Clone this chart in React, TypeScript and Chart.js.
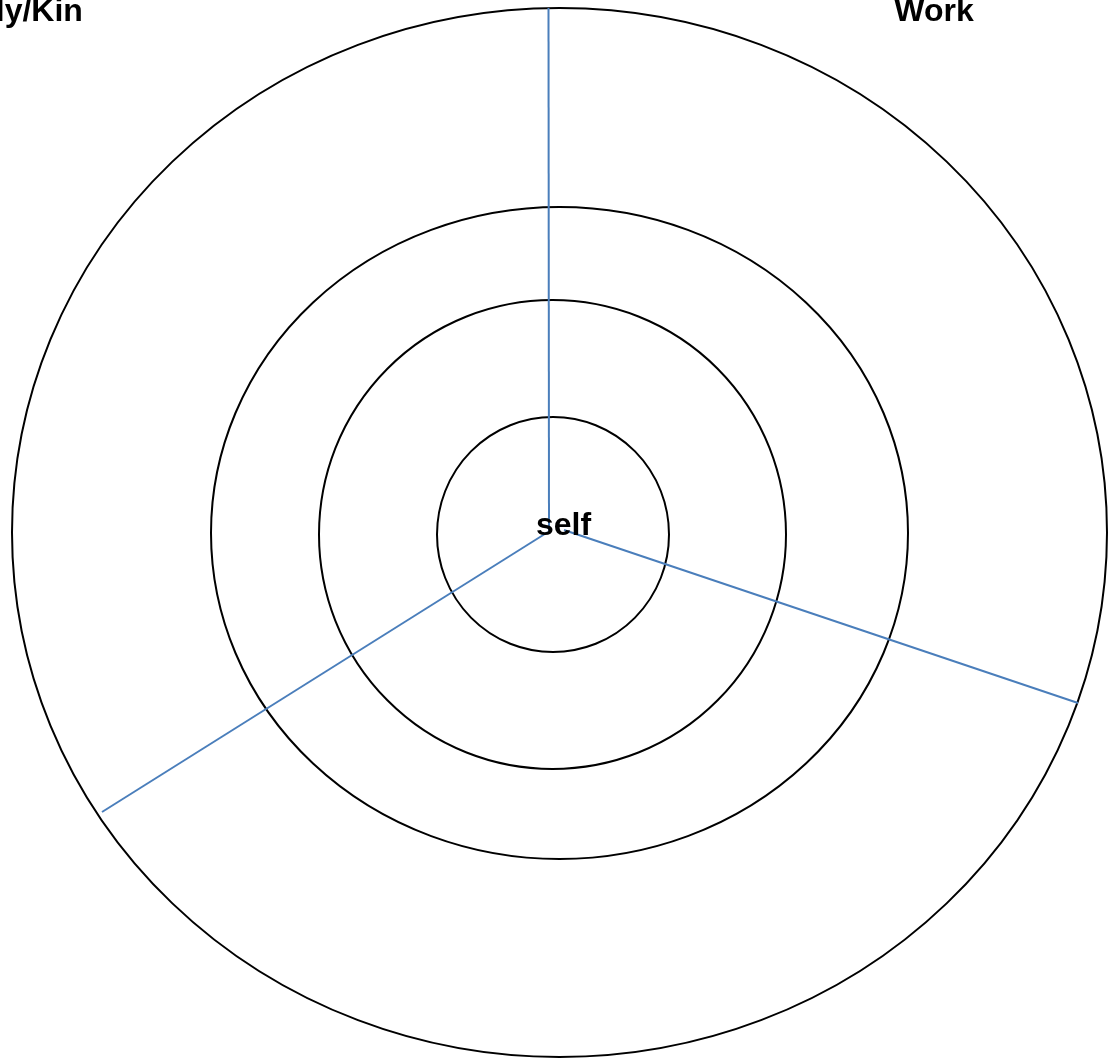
import React, { useEffect, useRef } from "react";
import { Chart, registerables } from "chart.js";

Chart.register(...registerables);

// Data space: origin at "self"; units ≈ pixels, y up.
const spokeNames = ["Family/Kin", "Work", "Other"];
const spokeStart = [
  { x: -1, y: 1 },
  { x: 0, y: 2 },
  { x: 15, y: 3 },
];
const spokeEnd = [
  { x: -447, y: -279 },
  { x: -0.5, y: 525 },
  { x: 529, y: -170 },
];

// Rings (ellipses) from outside in
const ringCx = [10.5, 10.5, 3.5, 4];
const ringCy = [0.5, 0, -1.5, -1.5];
const ringRx = [547.5, 348.5, 233.5, 116];
const ringRy = [524.5, 326, 234.5, 117.5];

// Text labels
const labelTexts = ["self", "Work", "Family/Kin"];
const labelX = [14.5, 385, -547];
const labelY = [-2, 512, 512];

const X_MIN = -549;
const X_MAX = 563;
const Y_MIN = -526;
const Y_MAX = 533;

const ringsPlugin = {
  id: "rings",
  beforeDatasetsDraw(chart: any) {
    const { ctx, scales } = chart;
    const xs = scales.x;
    const ys = scales.y;
    ctx.save();
    ctx.strokeStyle = "#000000";
    ctx.lineWidth = 2;
    for (let i = 0; i < ringCx.length; i++) {
      const cx = xs.getPixelForValue(ringCx[i]);
      const cy = ys.getPixelForValue(ringCy[i]);
      const rx = Math.abs(xs.getPixelForValue(ringCx[i] + ringRx[i]) - cx);
      const ry = Math.abs(ys.getPixelForValue(ringCy[i] + ringRy[i]) - cy);
      ctx.beginPath();
      ctx.ellipse(cx, cy, rx, ry, 0, 0, Math.PI * 2);
      ctx.stroke();
    }
    ctx.restore();
  },
};

const labelsPlugin = {
  id: "labelsText",
  afterDatasetsDraw(chart: any) {
    const { ctx, scales } = chart;
    ctx.save();
    ctx.fillStyle = "#000000";
    ctx.font = 'bold 32px "Liberation Sans", Arial, sans-serif';
    ctx.textAlign = "center";
    ctx.textBaseline = "alphabetic";
    for (let i = 0; i < labelTexts.length; i++) {
      ctx.fillText(
        labelTexts[i],
        scales.x.getPixelForValue(labelX[i]),
        scales.y.getPixelForValue(labelY[i])
      );
    }
    ctx.restore();
  },
};

export default function App() {
  const canvasRef = useRef<HTMLCanvasElement | null>(null);

  useEffect(() => {
    if (!canvasRef.current) return;
    const datasets = spokeNames.map((name, i) => ({
      label: name,
      data: [spokeStart[i], spokeEnd[i]],
      showLine: true,
      borderColor: "#4A7EBB",
      backgroundColor: "#4A7EBB",
      borderWidth: 2,
      pointRadius: 0,
      fill: false,
    }));
    const chart = new Chart(canvasRef.current, {
      type: "scatter",
      data: { datasets },
      options: {
        animation: false,
        responsive: false,
        maintainAspectRatio: false,
        layout: { padding: 0 },
        plugins: {
          legend: { display: false },
          tooltip: { enabled: false },
          title: { display: false },
        },
        scales: {
          x: { type: "linear", min: X_MIN, max: X_MAX, display: false },
          y: { type: "linear", min: Y_MIN, max: Y_MAX, display: false },
        },
      },
      plugins: [ringsPlugin, labelsPlugin],
    } as any);
    return () => chart.destroy();
  }, []);

  return (
    <div
      style={{
        position: "absolute",
        left: 0,
        top: 0,
        width: 1112,
        height: 1059,
        background: "#ffffff",
      }}
    >
      <canvas ref={canvasRef} width={1112} height={1059} />
    </div>
  );
}
